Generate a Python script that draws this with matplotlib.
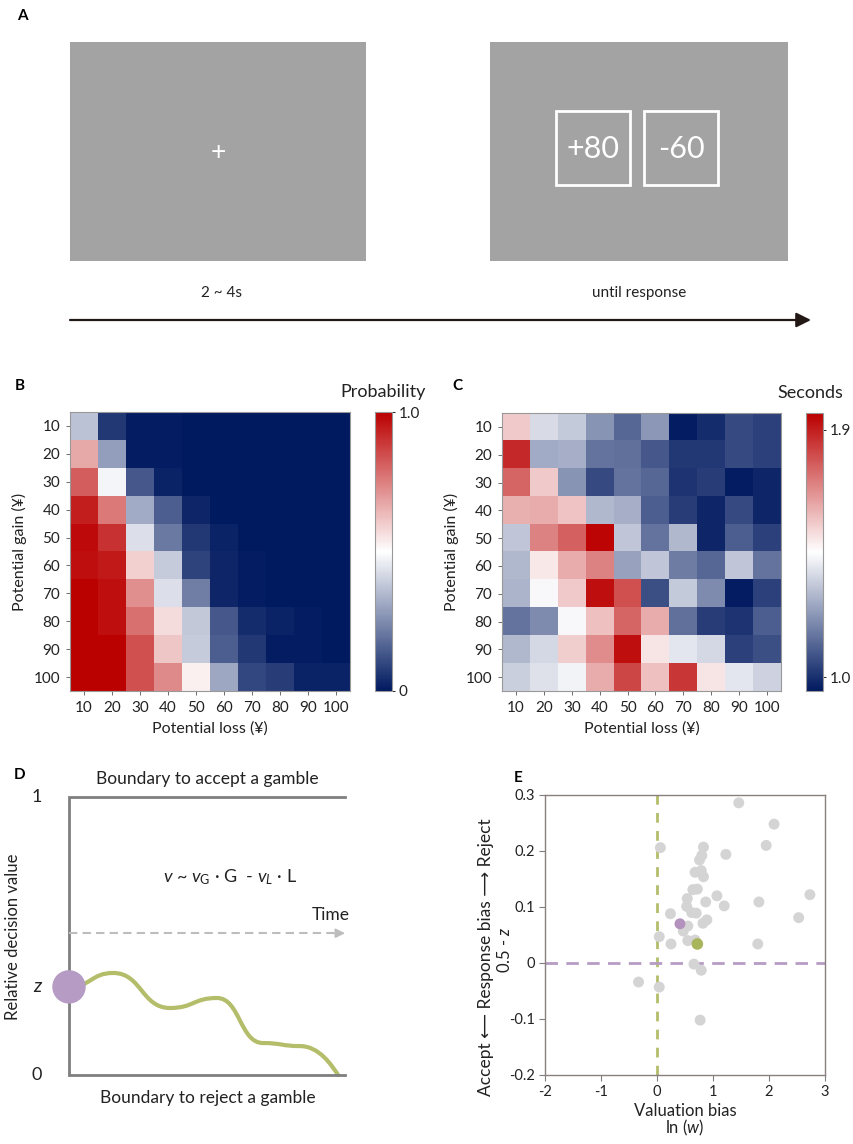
import matplotlib
matplotlib.use("Agg")
import matplotlib.pyplot as plt
import numpy as np
from matplotlib.colors import LinearSegmentedColormap
from matplotlib.patches import Rectangle, PathPatch
from matplotlib.path import Path

plt.rcParams['font.family'] = ['Lato', 'DejaVu Sans']
plt.rcParams['axes.unicode_minus'] = False
plt.rcParams['mathtext.fontset'] = 'custom'
plt.rcParams['mathtext.rm'] = 'Lato'
plt.rcParams['mathtext.it'] = 'Lato:italic'

W, H = 854, 1144

# ---- data ----
AMOUNTS = [10, 20, 30, 40, 50, 60, 70, 80, 90, 100]

# B: probability of accepting, rows = potential gain, cols = potential loss
PROB_ACCEPT = [
    [0.37, 0.07, 0.01, 0.01, 0.00, 0.00, 0.00, 0.00, 0.00, 0.00],
    [0.67, 0.29, 0.01, 0.01, 0.00, 0.00, 0.00, 0.00, 0.00, 0.00],
    [0.82, 0.48, 0.14, 0.02, 0.00, 0.00, 0.00, 0.00, 0.00, 0.00],
    [0.94, 0.76, 0.32, 0.15, 0.03, 0.00, 0.00, 0.00, 0.00, 0.00],
    [0.98, 0.90, 0.43, 0.21, 0.07, 0.02, 0.00, 0.00, 0.00, 0.00],
    [0.97, 0.95, 0.59, 0.39, 0.09, 0.03, 0.01, 0.00, 0.00, 0.00],
    [1.00, 0.97, 0.72, 0.43, 0.22, 0.03, 0.01, 0.00, 0.00, 0.00],
    [1.00, 0.97, 0.78, 0.57, 0.38, 0.14, 0.04, 0.02, 0.01, 0.00],
    [1.00, 1.00, 0.84, 0.61, 0.39, 0.15, 0.07, 0.01, 0.01, 0.00],
    [1.00, 1.00, 0.84, 0.73, 0.53, 0.31, 0.10, 0.08, 0.02, 0.02],
]

# C: response time in seconds
RT_SECONDS = [
    [1.56, 1.38, 1.34, 1.22, 1.12, 1.23, 0.96, 0.99, 1.06, 1.04],
    [1.88, 1.27, 1.28, 1.15, 1.14, 1.09, 1.02, 1.02, 1.06, 1.04],
    [1.76, 1.56, 1.22, 1.06, 1.15, 1.12, 1.01, 1.03, 0.96, 0.98],
    [1.61, 1.62, 1.57, 1.30, 1.28, 1.10, 1.03, 0.98, 1.06, 0.98],
    [1.33, 1.70, 1.77, 1.95, 1.33, 1.15, 1.30, 0.98, 1.10, 1.04],
    [1.30, 1.50, 1.62, 1.70, 1.25, 1.33, 1.17, 1.12, 1.33, 1.15],
    [1.29, 1.44, 1.56, 1.93, 1.80, 1.07, 1.34, 1.20, 0.96, 1.04],
    [1.15, 1.20, 1.44, 1.58, 1.76, 1.62, 1.14, 1.03, 1.01, 1.10],
    [1.30, 1.37, 1.55, 1.68, 1.93, 1.51, 1.40, 1.37, 1.04, 1.07],
    [1.35, 1.39, 1.43, 1.62, 1.82, 1.58, 1.85, 1.51, 1.40, 1.36],
]

# D: schematic drift trajectory (turning points)
DDM_TIME = [0.0, 0.16, 0.366, 0.536, 0.703, 0.837, 0.975]
DDM_VALUE = [0.317, 0.367, 0.241, 0.277, 0.115, 0.104, 0.0]
START_Z = 0.317

# E: individual parameter estimates
VALUATION_BIAS = [1.46, 2.09, 1.95, 0.06, 0.83, 1.23, 0.80, 0.76, 0.68, 0.79,
                  0.83, 0.64, 0.72, 0.54, 1.07, 0.87, 1.20, 1.82, 2.73, 0.53,
                  0.62, 0.70, 0.24, 2.53, 0.89, 0.82, 0.55, 0.47, 0.04, 0.55,
                  0.25, 0.68, 1.80, 0.66, 0.79, -0.33, 0.04, 0.77]
RESPONSE_BIAS = [0.286, 0.248, 0.210, 0.206, 0.207, 0.194, 0.192, 0.184, 0.162, 0.165,
                 0.154, 0.131, 0.132, 0.115, 0.120, 0.109, 0.102, 0.109, 0.122, 0.101,
                 0.090, 0.089, 0.088, 0.081, 0.077, 0.071, 0.066, 0.057, 0.047, 0.040,
                 0.034, 0.041, 0.034, -0.002, -0.013, -0.034, -0.043, -0.102]
PURPLE_POINT = (0.41, 0.070)
GREEN_POINT = (0.72, 0.034)
E_XTICKS = [-2, -1, 0, 1, 2, 3]
E_YTICKS = [-0.2, -0.1, 0, 0.1, 0.2, 0.3]
E_YTICKLABELS = ['-0.2', '-0.1', '0', '0.1', '0.2', '0.3']

GREY_BOX = '#a3a3a3'
OLIVE = '#b3bd6a'
LILAC = '#b69cc4'
AXIS_GREY = '#7f7f7f'
CMAP = LinearSegmentedColormap.from_list('bwr_navy', ['#001a60', '#ffffff', '#bb0000'])


def px_axes(fig, x0, y0, x1, y1):
    return fig.add_axes([x0 / W, 1 - y1 / H, (x1 - x0) / W, (y1 - y0) / H])


def draw_heatmap(fig, box, cbox, data, vmin, vmax, cticks, clabels):
    ax = px_axes(fig, *box)
    im = ax.imshow(np.array(data), cmap=CMAP, vmin=vmin, vmax=vmax,
                   aspect='auto', interpolation='nearest')
    ax.set_xticks(range(len(AMOUNTS)))
    ax.set_xticklabels(AMOUNTS)
    ax.set_yticks(range(len(AMOUNTS)))
    ax.set_yticklabels(AMOUNTS)
    ax.tick_params(labelsize=11, length=3, width=0.6, color='#555555', pad=4,
                   labelcolor='#222222')
    ax.set_xlabel('Potential loss (¥)', fontsize=11.5, labelpad=5, color='#222222')
    ax.set_ylabel('Potential gain (¥)', fontsize=11.5, labelpad=5, color='#222222')
    for sp in ax.spines.values():
        sp.set_color('#999999')
        sp.set_linewidth(0.8)

    cax = px_axes(fig, *cbox)
    cb = fig.colorbar(im, cax=cax, ticks=cticks)
    cb.ax.set_yticklabels(clabels)
    cb.ax.tick_params(labelsize=11, length=2, width=0.6, pad=3, labelcolor='#222222')
    cb.outline.set_edgecolor('#999999')
    cb.outline.set_linewidth(0.8)
    return ax


fig = plt.figure(figsize=(W / 100, H / 100), dpi=100)

# overlay in pixel coordinates for the schematic parts and panel letters
ov = fig.add_axes([0, 0, 1, 1])
ov.set_xlim(0, W)
ov.set_ylim(H, 0)
ov.axis('off')

# ---- A: task screens ----
ov.add_patch(Rectangle((70, 42), 296, 219, facecolor=GREY_BOX, edgecolor='none'))
ov.add_patch(Rectangle((490, 42), 298, 219, facecolor=GREY_BOX, edgecolor='none'))
ov.text(218, 153, '+', color='white', fontsize=19, ha='center', va='center')
for cx, label in [(593, '+80'), (681, '-60')]:
    ov.add_patch(Rectangle((cx - 37, 111), 74, 74, facecolor='none',
                           edgecolor='white', linewidth=2))
    ov.text(cx, 149, label, color='white', fontsize=22, ha='center', va='center')
ov.text(222, 293, '2 ~ 4s', fontsize=11, ha='center', va='center', color='#222222')
ov.text(639, 293, 'until response', fontsize=11, ha='center', va='center', color='#222222')
ov.annotate('', xy=(811, 320), xytext=(70, 320),
            arrowprops=dict(arrowstyle='-|>', color='#231815', lw=1.6,
                            mutation_scale=22, shrinkA=0, shrinkB=0))

# panel letters
for letter, x, y in [('A', 22, 16), ('B', 20, 386), ('C', 457, 386),
                     ('D', 20, 775), ('E', 518, 778)]:
    ov.text(x, y, letter, fontsize=11, fontweight='bold', ha='center', va='center')

# ---- B and C: heatmaps ----
draw_heatmap(fig, (70, 412, 350, 691), (375, 412, 392, 691),
             PROB_ACCEPT, 0.0, 1.0, [0, 1.0], ['0', '1.0'])
ov.text(383, 392, 'Probability', fontsize=13, ha='center', va='center', color='#222222')

draw_heatmap(fig, (502, 413, 781, 691), (806, 413, 823, 691),
             RT_SECONDS, 0.95, 1.96, [1.0, 1.9], ['1.0', '1.9'])
ov.text(810, 393, 'Seconds', fontsize=13, ha='center', va='center', color='#222222')

# ---- D: drift diffusion schematic ----
axd = px_axes(fig, 69, 797, 345, 1075)
axd.set_xlim(0, 1)
axd.set_ylim(0, 1)
axd.axis('off')
axd.plot([1, 0, 0, 1], [1, 1, 0, 0], color=AXIS_GREY, lw=2, clip_on=False,
         solid_joinstyle='miter')
axd.plot([0, 0.96], [0.51, 0.51], color='#bdbdbd', lw=1.5, ls=(0, (4, 2.5)), clip_on=False)
axd.annotate('', xy=(1.0, 0.51), xytext=(0.95, 0.51),
             arrowprops=dict(arrowstyle='-|>', color='#bdbdbd', lw=1.2,
                             mutation_scale=14, shrinkA=0, shrinkB=0))

verts = [(DDM_TIME[0], DDM_VALUE[0])]
codes = [Path.MOVETO]
for i in range(1, len(DDM_TIME)):
    t0, v0 = DDM_TIME[i - 1], DDM_VALUE[i - 1]
    t1, v1 = DDM_TIME[i], DDM_VALUE[i]
    half = (t1 - t0) / 2
    if i == len(DDM_TIME) - 1:
        c2 = (t1 - half * 0.35, v1 + (v0 - v1) * 0.35)
    else:
        c2 = (t1 - half, v1)
    verts += [(t0 + half, v0), c2, (t1, v1)]
    codes += [Path.CURVE4] * 3
axd.add_patch(PathPatch(Path(verts, codes), facecolor='none', edgecolor=OLIVE,
                        lw=3, clip_on=False, capstyle='round'))
axd.scatter([0], [START_Z], s=580, color=LILAC, zorder=5, clip_on=False, edgecolors='none')

ov.text(207, 779, 'Boundary to accept a gamble', fontsize=12.5, ha='center', va='center',
        color='#222222')
ov.text(208, 1098, 'Boundary to reject a gamble', fontsize=12.5, ha='center', va='center',
        color='#222222')
ov.text(37, 797, '1', fontsize=13, ha='center', va='center', color='#222222')
ov.text(37, 1075, '0', fontsize=13, ha='center', va='center', color='#222222')
ov.text(37, 987, 'z', fontsize=14, style='italic', ha='center', va='center', color='#222222')
ov.text(13, 937, 'Relative decision value', fontsize=12, rotation=90,
        ha='center', va='center', color='#222222')
ov.text(230, 877, r'$v$ ~ $v_{\mathrm{G}}$ · G  - $v_{L}$ · L', fontsize=13,
        ha='center', va='center', color='#222222')
ov.text(331, 915, 'Time', fontsize=12.5, ha='center', va='center', color='#222222')

# ---- E: scatter of biases ----
axe = px_axes(fig, 545, 795, 825, 1075)
axe.axvline(0, color=OLIVE, lw=2, ls=(0, (3.5, 3)), zorder=1)
axe.axhline(0, color=LILAC, lw=2, ls=(0, (4.5, 3)), zorder=1)
axe.scatter(VALUATION_BIAS, RESPONSE_BIAS, s=62, color='#d4d4d4', edgecolors='none', zorder=2)
axe.scatter([PURPLE_POINT[0]], [PURPLE_POINT[1]], s=62, color='#b392bd',
            edgecolors='none', zorder=3)
axe.scatter([GREEN_POINT[0]], [GREEN_POINT[1]], s=70, color='#a9b55a',
            edgecolors='none', zorder=3)
axe.set_xlim(-2, 3)
axe.set_ylim(-0.2, 0.3)
axe.set_xticks(E_XTICKS)
axe.set_xticklabels([str(v) for v in E_XTICKS])
axe.set_yticks(E_YTICKS)
axe.set_yticklabels(E_YTICKLABELS)
axe.tick_params(labelsize=10.5, length=4, width=0.8, color=AXIS_GREY, pad=3,
                labelcolor='#222222')
for sp in axe.spines.values():
    sp.set_color('#8a7f7f')
    sp.set_linewidth(1)

ov.text(486, 957, 'Accept \u27f5 Response bias \u27f6 Reject', fontsize=12.5, rotation=90,
        ha='center', va='center', color='#222222')
ov.text(505, 950, r'0.5 - $z$', fontsize=12, rotation=90, ha='center', va='center',
        color='#222222')
ov.text(685, 1111, 'Valuation bias', fontsize=12, ha='center', va='center', color='#222222')
ov.text(685, 1128, r'ln ($w$)', fontsize=12, ha='center', va='center', color='#222222')

fig.savefig('out.png', dpi=100)
